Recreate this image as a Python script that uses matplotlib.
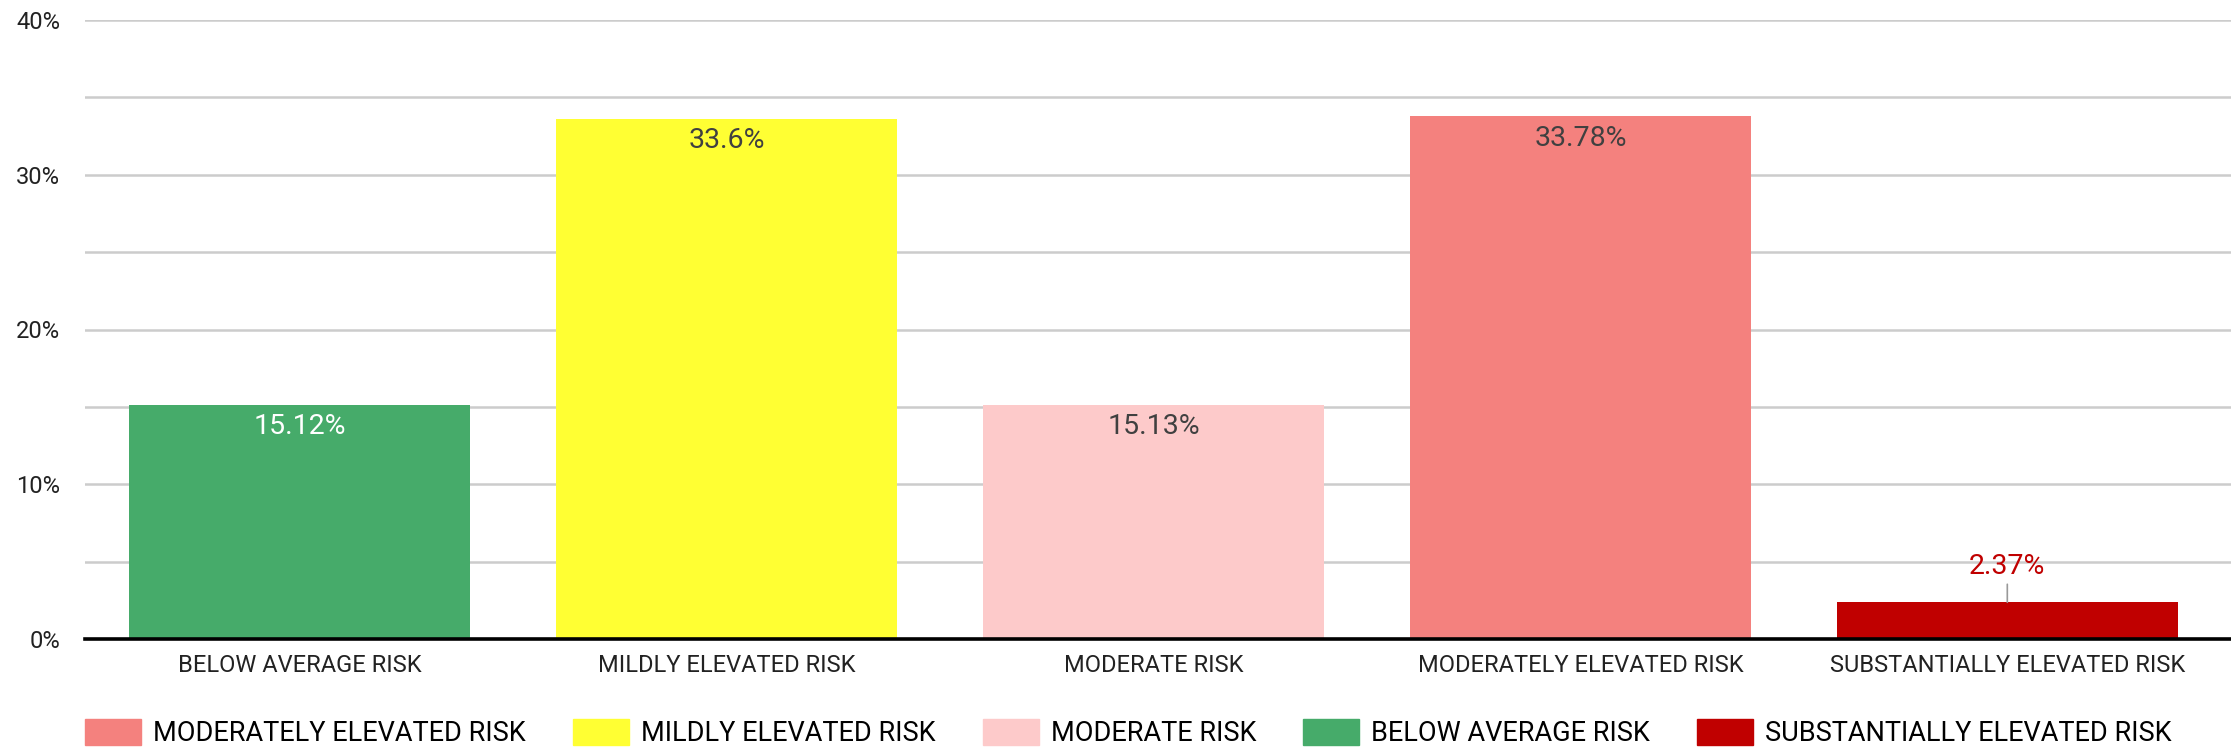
import matplotlib.pyplot as plt
from matplotlib.patches import Patch
from matplotlib.ticker import MultipleLocator, FuncFormatter

plt.rcParams['font.family'] = ['Roboto', 'DejaVu Sans']

categories = ['BELOW AVERAGE RISK', 'MILDLY ELEVATED RISK', 'MODERATE RISK',
              'MODERATELY ELEVATED RISK', 'SUBSTANTIALLY ELEVATED RISK']
values = [15.12, 33.6, 15.13, 33.78, 2.37]
value_labels = ['15.12%', '33.6%', '15.13%', '33.78%', '2.37%']
colors = ['#46ab6a', '#ffff33', '#fdcaca', '#f4817e', '#c00000']
label_colors = ['#ffffff', '#404040', '#404040', '#404040', '#c00000']
legend_order = ['MODERATELY ELEVATED RISK', 'MILDLY ELEVATED RISK', 'MODERATE RISK',
                'BELOW AVERAGE RISK', 'SUBSTANTIALLY ELEVATED RISK']

W, H = 2231, 748
fig = plt.figure(figsize=(W / 100, H / 100), dpi=100)
ax = fig.add_axes([85 / W, 1 - 639 / H, 1 - 85 / W, (639 - 20) / H])

x = list(range(len(categories)))
ax.bar(x, values, width=0.8, color=colors, zorder=2)

ax.set_xlim(-0.503, 4.524)
ax.set_ylim(0, 40)
ax.yaxis.set_major_locator(MultipleLocator(10))
ax.yaxis.set_minor_locator(MultipleLocator(5))
ax.yaxis.set_major_formatter(FuncFormatter(lambda v, p: '%d%%' % v))
ax.grid(axis='y', which='both', color='#cccccc', lw=1.8, zorder=0)
ax.set_axisbelow(True)

for s in ['top', 'right', 'left']:
    ax.spines[s].set_visible(False)
ax.spines['bottom'].set_color('black')
ax.spines['bottom'].set_linewidth(2.6)
ax.spines['bottom'].set_zorder(3)

ax.set_xticks(x)
ax.set_xticklabels(categories, fontsize=17, color='#222222')
ax.tick_params(axis='x', length=0, pad=11)
ax.tick_params(axis='y', which='both', length=0, pad=18, labelsize=17, labelcolor='#222222')

for i, (v, lab) in enumerate(zip(values, value_labels)):
    if v > 5:
        ax.annotate(lab, xy=(i, v), xytext=(0, -6), textcoords='offset points',
                    ha='center', va='top', fontsize=20.5, color=label_colors[i])
    else:
        ax.annotate(lab, xy=(i, v), xytext=(0, 16), textcoords='offset points',
                    ha='center', va='bottom', fontsize=20.5, color=label_colors[i],
                    arrowprops=dict(arrowstyle='-', color='#999999', lw=1.2,
                                    shrinkA=1, shrinkB=0))

handles = [Patch(color=colors[categories.index(n)]) for n in legend_order]
fig.legend(handles, legend_order, ncol=5, loc='upper left',
           bbox_to_anchor=(85 / W, 1 - 719 / H), frameon=False,
           fontsize=19.5, handlelength=2.07, handleheight=1.1,
           handletextpad=0.44, columnspacing=1.74, borderpad=0, borderaxespad=0)

fig.savefig('out.png', dpi=100)
